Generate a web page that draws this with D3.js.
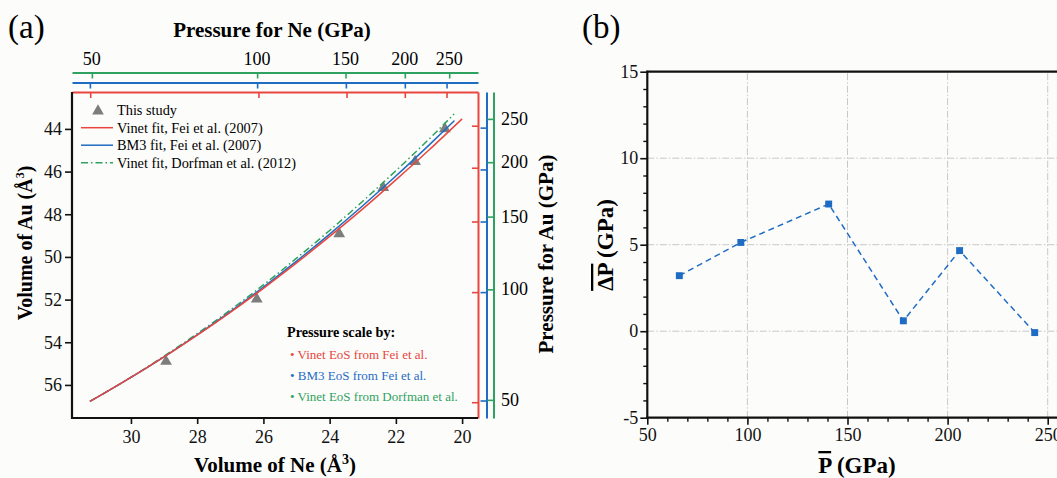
<!DOCTYPE html>
<html><head><meta charset="utf-8">
<script src="https://cdn.jsdelivr.net/npm/d3@7"></script>
<style>
body{margin:0;background:#fcfcfa}
svg{display:block}
svg text{font-family:"Liberation Serif",serif !important}
</style>
</head><body>
<svg id="c" width="1057" height="478" font-family="Liberation Serif"></svg>
<script>
// ---------------- Panel (a) data ----------------
const studyNeVolume = [28.94, 26.20, 23.71, 22.38, 21.42, 20.52];
const studyAuVolume = [54.90, 51.98, 48.92, 46.75, 45.53, 44.00];

const vinetFeiNeVolume = [31.24, 31, 30, 29, 28, 27, 26, 25, 24, 23, 22, 21, 20];
const vinetFeiAuVolume = [56.77, 56.56, 55.65, 54.69, 53.67, 52.60, 51.47, 50.28, 49.04, 47.75, 46.39, 44.99, 43.53];

const bm3FeiNeVolume = [31.24, 31, 30, 29, 28, 27, 26, 25, 24, 23, 22, 21, 20.23];
const bm3FeiAuVolume = [56.77, 56.56, 55.65, 54.68, 53.65, 52.56, 51.41, 50.20, 48.93, 47.60, 46.21, 44.76, 43.61];

const vinetDorfmanNeVolume = [31.24, 31, 30, 29, 28, 27, 26, 25, 24, 23, 22, 21, 20.24];
const vinetDorfmanAuVolume = [56.77, 56.56, 55.64, 54.65, 53.60, 52.49, 51.31, 50.06, 48.76, 47.39, 45.96, 44.48, 43.30];

const neVolumeTicks = [30, 28, 26, 24, 22, 20];
const auVolumeTicks = [44, 46, 48, 50, 52, 54, 56];

const pressureTickLabels = [50, 100, 150, 200, 250];
// Ne volume at which each Ne pressure tick sits (red: Vinet Fei, blue: BM3 Fei, green: Vinet Dorfman)
const neTickVolRed   = [31.23, 26.15, 23.49, 21.73, 20.47];
const neTickVolBlue  = [31.24, 26.19, 23.51, 21.73, 20.47];
const neTickVolGreen = [31.18, 26.19, 23.52, 21.73, 20.39];
// Au volume at which each Au pressure tick sits
const auTickVolRed   = [56.81, 51.65, 48.34, 45.82, 43.85];
const auTickVolBlue  = [56.73, 51.65, 48.34, 45.90, 43.94];
const auTickVolGreen = [56.70, 51.52, 48.11, 45.56, 43.53];

const legendLabels = ["This study", "Vinet fit, Fei et al. (2007)", "BM3 fit, Fei et al. (2007)", "Vinet fit, Dorfman et al. (2012)"];
const scaleLabels = ["Vinet EoS from Fei et al.", "BM3 EoS from Fei et al.", "Vinet EoS from Dorfman et al."];

// ---------------- Panel (b) data ----------------
const meanPressure = [66.0, 96.7, 140.6, 177.9, 206.0, 243.5];
const meanDeltaP   = [3.21, 5.13, 7.35, 0.60, 4.66, -0.08];
const bXTicks = [50, 100, 150, 200, 250];
const bYTicks = [-5, 0, 5, 10, 15];

// ---------------- styling ----------------
const RED = "#e8463e", BLUE = "#1f6cc4", GREEN = "#2fa25f", GREY = "#7d7d7d";
const SERIF = "Liberation Serif";
const svg = d3.select("#c");
const FS = 18;
const fmt = d => String(d);

// ---------------- Panel (a) ----------------
const L = 72, R = 478, T = 92, B = 418;
const xA = d3.scaleLinear().domain([31.78, 19.52]).range([L, R]);
const yA = d3.scaleLinear().domain([42.27, 57.55]).range([T, B]);

const gA = svg.append("g");

gA.append("g").selectAll("path").data(studyNeVolume).join("path")
  .attr("d", d3.symbol(d3.symbolTriangle, 60))
  .attr("transform", (d, i) => `translate(${xA(d)},${yA(studyAuVolume[i])})`)
  .attr("fill", GREY);

const lineA = d3.line().x(d => xA(d[0])).y(d => yA(d[1])).curve(d3.curveMonotoneX);
const curves = [
  {ne: vinetDorfmanNeVolume, au: vinetDorfmanAuVolume, c: GREEN, dash: "7,3,1.5,3"},
  {ne: bm3FeiNeVolume, au: bm3FeiAuVolume, c: BLUE, dash: null},
  {ne: vinetFeiNeVolume, au: vinetFeiAuVolume, c: RED, dash: null}
];
curves.forEach(cv => {
  gA.append("path").datum(cv.ne.map((v, i) => [v, cv.au[i]]))
    .attr("d", lineA).attr("fill", "none").attr("stroke", cv.c)
    .attr("stroke-width", 1.5).attr("stroke-dasharray", cv.dash);
});

function styleAxis(g, color, w) {
  g.selectAll("path.domain").attr("stroke", color).attr("stroke-width", w);
  g.selectAll(".tick line").attr("stroke", color).attr("stroke-width", 1.6);
  g.selectAll(".tick text").remove();
}
[[neTickVolGreen, GREEN, 72.5], [neTickVolBlue, BLUE, 82.5], [neTickVolRed, RED, T]].forEach(([vals, col, y]) => {
  const g = gA.append("g").attr("transform", `translate(0,${y})`)
    .call(d3.axisBottom(xA).tickValues(vals).tickSize(6).tickSizeOuter(0));
  styleAxis(g, col, 2);
});
gA.append("g").selectAll("text").data(pressureTickLabels).join("text")
  .attr("x", (d, i) => xA(neTickVolGreen[i])).attr("y", 65)
  .attr("text-anchor", "middle").attr("font-size", FS).text(d => d);

[[auTickVolRed, RED, R], [auTickVolBlue, BLUE, 486.5], [auTickVolGreen, GREEN, 493.5]].forEach(([vals, col, x]) => {
  const g = gA.append("g").attr("transform", `translate(${x},0)`)
    .call(d3.axisLeft(yA).tickValues(vals).tickSize(6).tickSizeOuter(0));
  styleAxis(g, col, 2);
});
gA.append("g").selectAll("text").data(pressureTickLabels).join("text")
  .attr("x", 501).attr("y", (d, i) => yA(auTickVolGreen[i])).attr("dy", "0.34em")
  .attr("font-size", FS).text(d => d);

const axL = gA.append("g").attr("transform", `translate(${L},0)`)
  .call(d3.axisLeft(yA).tickValues(auVolumeTicks).tickFormat(fmt).tickSize(7).tickPadding(3).tickSizeOuter(0));
const axB = gA.append("g").attr("transform", `translate(0,${B})`)
  .call(d3.axisBottom(xA).tickValues(neVolumeTicks).tickFormat(fmt).tickSize(6).tickPadding(6).tickSizeOuter(0));
[axL, axB].forEach(g => {
  g.attr("font-family", SERIF).attr("font-size", FS);
  g.selectAll("path.domain").attr("stroke", "#111").attr("stroke-width", 2.2);
  g.selectAll(".tick line").attr("stroke", "#111").attr("stroke-width", 1.6);
  g.selectAll(".tick text").attr("fill", "#111");
});
axL.select("path.domain").attr("d", `M0,${T}V${B+1}`);
axB.select("path.domain").attr("d", `M${L-1},0H${R}`);

const lg = gA.append("g");
lg.append("path").attr("d", d3.symbol(d3.symbolTriangle, 60)).attr("transform", "translate(98,111)").attr("fill", GREY);
lg.append("text").attr("x", 117).attr("y", 115).attr("font-size", 14.3).text(legendLabels[0]);
[[RED, null], [BLUE, null], [GREEN, "7,3,1.5,3"]].forEach(([c, dash], i) => {
  const y = 127.7 + i * 17.5;
  lg.append("line").attr("x1", 81).attr("x2", 113).attr("y1", y).attr("y2", y)
    .attr("stroke", c).attr("stroke-width", 1.5).attr("stroke-dasharray", dash);
  lg.append("text").attr("x", 117).attr("y", y + 5).attr("font-size", 14.3).text(legendLabels[i + 1]);
});

gA.append("text").attr("x", 287).attr("y", 337).attr("font-size", 14.2).attr("font-weight", "bold").text("Pressure scale by:");
[RED, BLUE, GREEN].forEach((c, i) => {
  gA.append("text").attr("x", 290).attr("y", 359 + i * 21).attr("font-size", 13)
    .attr("fill", c).text("• " + scaleLabels[i]);
});

gA.append("text").attr("x", 272).attr("y", 37).attr("text-anchor", "middle")
  .attr("font-size", 21).attr("font-weight", "bold").text("Pressure for Ne (GPa)");
const tB = gA.append("text").attr("x", 275).attr("y", 472).attr("text-anchor", "middle")
  .attr("font-size", 21).attr("font-weight", "bold");
tB.append("tspan").text("Volume of Ne (Å");
tB.append("tspan").attr("font-size", 14).attr("dy", -8).text("3");
tB.append("tspan").attr("dy", 8).text(")");
const tL = gA.append("text").attr("transform", "translate(32,243) rotate(-90)").attr("text-anchor", "middle")
  .attr("font-size", 20).attr("font-weight", "bold");
tL.append("tspan").text("Volume of Au (Å");
tL.append("tspan").attr("font-size", 12).attr("dy", -8).text("3");
tL.append("tspan").attr("dy", 8).text(")");
gA.append("text").attr("transform", "translate(553,254) rotate(-90)").attr("text-anchor", "middle")
  .attr("font-size", 21).attr("font-weight", "bold").text("Pressure for Au (GPa)");

svg.append("text").attr("x", 8).attr("y", 38).attr("font-size", 33).text("(a)");
svg.append("text").attr("x", 582).attr("y", 38).attr("font-size", 33).text("(b)");

// ---------------- Panel (b) ----------------
const bL = 647.3, bT = 71.7, bB = 417.7;
const xB = d3.scaleLinear().domain([50, 260]).range([bL, bL + 210 * 2.002]);
const yB = d3.scaleLinear().domain([-5, 15]).range([bB, bT]);
const gB = svg.append("g");

gB.append("g").selectAll("line").data(bXTicks.slice(1)).join("line")
  .attr("x1", d => xB(d)).attr("x2", d => xB(d)).attr("y1", yB(-5)).attr("y2", yB(15))
  .attr("stroke", "#c8c8c8").attr("stroke-width", 1).attr("stroke-dasharray", "7,2,1.5,2");
gB.append("g").selectAll("line").data(bYTicks.slice(1, 4)).join("line")
  .attr("x1", xB(50)).attr("x2", xB(260)).attr("y1", d => yB(d)).attr("y2", d => yB(d))
  .attr("stroke", "#c8c8c8").attr("stroke-width", 1).attr("stroke-dasharray", "7,2,1.5,2");

const minorX = d3.range(60, 261, 10).filter(v => v % 50 !== 0);
const minorY = d3.range(-4, 15, 1).filter(v => v % 5 !== 0);
const mX = gB.append("g").attr("transform", `translate(0,${bB})`)
  .call(d3.axisBottom(xB).tickValues(minorX).tickSize(4).tickFormat(""));
const mY = gB.append("g").attr("transform", `translate(${bL},0)`)
  .call(d3.axisLeft(yB).tickValues(minorY).tickSize(4).tickFormat(""));
[mX, mY].forEach(g => { g.select("path.domain").remove(); g.selectAll(".tick line").attr("stroke", "#111").attr("stroke-width", 1.4); });

const bAxB = gB.append("g").attr("transform", `translate(0,${bB})`)
  .call(d3.axisBottom(xB).tickValues(bXTicks).tickFormat(fmt).tickSize(7).tickPadding(4).tickSizeOuter(0));
const bAxL = gB.append("g").attr("transform", `translate(${bL},0)`)
  .call(d3.axisLeft(yB).tickValues(bYTicks).tickFormat(fmt).tickSize(7).tickPadding(2).tickSizeOuter(0));
[bAxB, bAxL].forEach(g => {
  g.attr("font-family", SERIF).attr("font-size", FS);
  g.selectAll("path.domain").attr("stroke", "#111").attr("stroke-width", 2.2);
  g.selectAll(".tick line").attr("stroke", "#111").attr("stroke-width", 1.6);
  g.selectAll(".tick text").attr("fill", "#111");
});
bAxB.select("path.domain").attr("d", `M${bL-1},0H${xB(260)}`);
bAxL.select("path.domain").attr("d", `M0,${bT-1}V${bB+1}`);
gB.append("line").attr("x1", bL - 1).attr("x2", xB(260)).attr("y1", bT).attr("y2", bT)
  .attr("stroke", "#111").attr("stroke-width", 2.2);

const lineB = d3.line().x(d => xB(d)).y((d, i) => yB(meanDeltaP[i]));
gB.append("path").datum(meanPressure).attr("d", lineB).attr("fill", "none")
  .attr("stroke", BLUE).attr("stroke-width", 1.5).attr("stroke-dasharray", "6,4");
gB.append("g").selectAll("path").data(meanPressure).join("path")
  .attr("d", d3.symbol(d3.symbolSquare, 48))
  .attr("transform", (d, i) => `translate(${xB(d)},${yB(meanDeltaP[i])})`)
  .attr("fill", BLUE);

const bx = gB.append("text").attr("x", 857).attr("y", 473).attr("text-anchor", "middle")
  .attr("font-size", 23).attr("font-weight", "bold");
bx.append("tspan").style("text-decoration", "overline").text("P");
bx.append("tspan").text(" (GPa)");
const by = gB.append("text").attr("transform", "translate(613,245) rotate(-90)").attr("text-anchor", "middle")
  .attr("font-size", 23).attr("font-weight", "bold");
by.append("tspan").style("text-decoration", "overline").text("ΔP");
by.append("tspan").text(" (GPa)");
</script>
</body></html>
